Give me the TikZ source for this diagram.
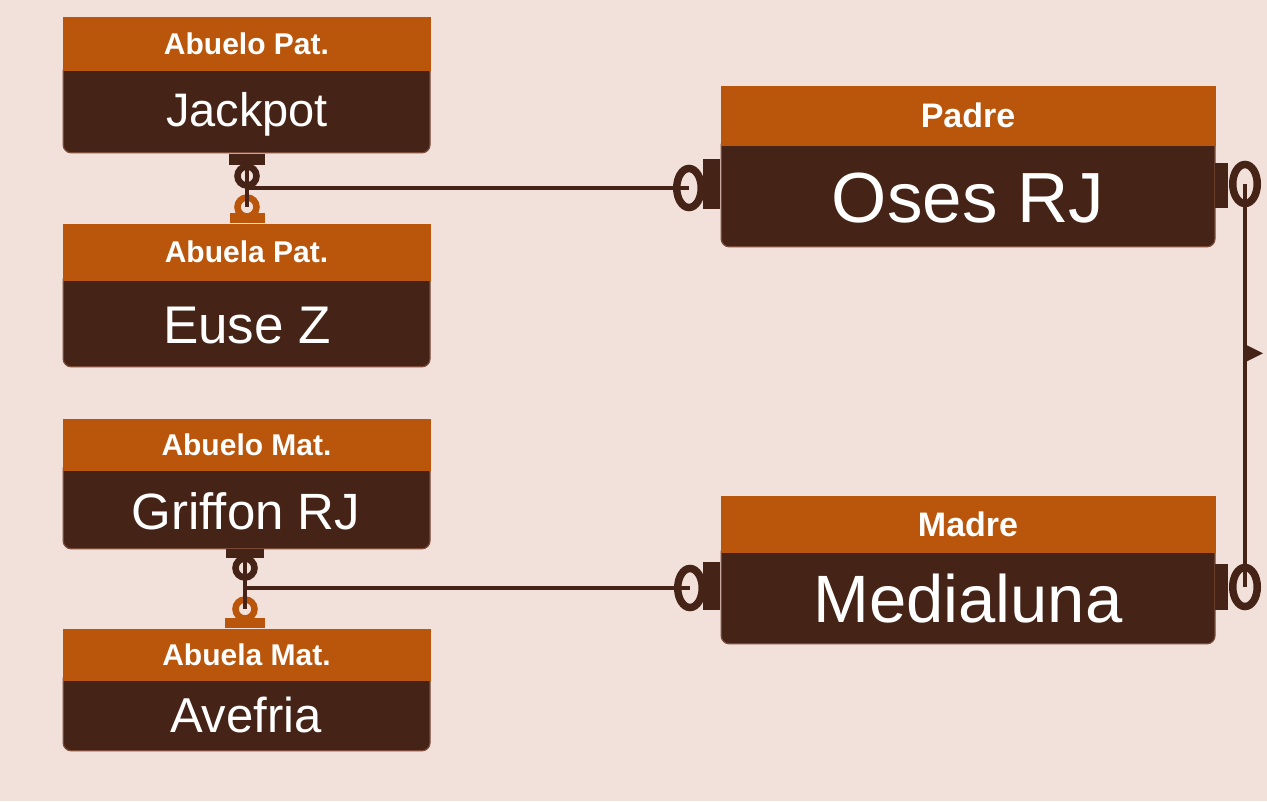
\documentclass[tikz,border=0pt]{standalone}
\usepackage{fontspec}
\setmainfont{Liberation Sans}
\usetikzlibrary{shapes.geometric,calc}
\definecolor{bgc}{HTML}{F2E0DA}
\definecolor{hdrc}{HTML}{B9560C}
\definecolor{bodyc}{HTML}{452417}
\definecolor{bordc}{HTML}{7A4B38}
\begin{document}
\begin{tikzpicture}[x=1pt,y=-1pt,
  hdr/.style={fill=hdrc, draw=hdrc, line width=1pt, text=white, inner sep=0pt, anchor=north west, font=\fontsize{30}{30}\selectfont\bfseries},
  bighdr/.style={hdr, font=\fontsize{34}{34}\selectfont\bfseries},
  bodyb/.style={fill=bodyc, draw=bordc, line width=1.2pt, rounded corners=8pt, inner sep=0pt, anchor=south west},
  nm/.style={text=white, inner sep=0pt, anchor=base},
  port/.style={fill=bodyc, inner sep=0pt, minimum width=36pt, minimum height=11pt},
  oport/.style={port, fill=hdrc},
  ring/.style={circle, draw=bodyc, line width=6.5pt, minimum size=19pt, inner sep=0pt},
  oring/.style={ring, draw=hdrc},
  pring/.style={ellipse, draw=bodyc, line width=7.5pt, minimum width=24.5pt, minimum height=39pt, inner sep=0pt},
  conn/.style={draw=bodyc, line width=4pt}]
\fill[bgc] (0,0) rectangle (1267,801);
\useasboundingbox (0,0) rectangle (1267,801);

% Abuelo Pat.
\node[bodyb, minimum width=366.8pt, minimum height=90pt] (apB) at (62.6,153.4) {};
\node[hdr, minimum width=367pt, minimum height=53pt] (apH) at (62.5,16.5) {Abuelo Pat.};
\node[nm, font=\fontsize{47}{47}\selectfont] (apN) at (247,126) {Jackpot};
% Abuela Pat.
\node[bodyb, minimum width=366.8pt, minimum height=95pt] (abpB) at (62.6,367.4) {};
\node[hdr, minimum width=367pt, minimum height=56pt] (abpH) at (62.5,223.5) {Abuela Pat.};
\node[nm, font=\fontsize{53}{53}\selectfont] (abpN) at (247,343) {Euse Z};
% Abuelo Mat.
\node[bodyb, minimum width=366.8pt, minimum height=88pt] (amB) at (62.6,549.4) {};
\node[hdr, minimum width=367pt, minimum height=51pt] (amH) at (62.5,418.5) {Abuelo Mat.};
\node[nm, font=\fontsize{51}{51}\selectfont] (amN) at (246,529) {Griffon RJ};
% Abuela Mat.
\node[bodyb, minimum width=366.8pt, minimum height=80pt] (abmB) at (62.6,751.4) {};
\node[hdr, minimum width=367pt, minimum height=51pt] (abmH) at (62.5,628.5) {Abuela Mat.};
\node[nm, font=\fontsize{49}{49}\selectfont] (abmN) at (246,732) {Avefria};
% Padre
\node[bodyb, minimum width=493.8pt, minimum height=110pt] (padB) at (720.6,247.4) {};
\node[bighdr, minimum width=494pt, minimum height=59pt] (padH) at (720.5,85.5) {Padre};
\node[nm, font=\fontsize{71}{71}\selectfont] (padN) at (968,222) {Oses RJ};
% Madre
\node[bodyb, minimum width=493.8pt, minimum height=100pt] (madB) at (720.6,644.4) {};
\node[bighdr, minimum width=494pt, minimum height=56pt] (madH) at (720.5,495.5) {Madre};
\node[nm, font=\fontsize{67}{67}\selectfont] (madN) at (968,622) {Medialuna};

% ports
\node[port] (apP) at (247,159.5) {};
\node[oport, minimum width=35pt, minimum height=10pt] (abpP) at (247,218) {};
\node[port, minimum width=38pt, minimum height=9pt] (amP) at (245,553.5) {};
\node[oport, minimum width=40pt, minimum height=10pt] (abmP) at (245,623) {};
\node[port, minimum width=17pt, minimum height=50pt] (padLP) at (711.5,184) {};
\node[port, minimum width=13pt, minimum height=45pt] (padRP) at (1221.5,185.5) {};
\node[port, minimum width=17pt, minimum height=48pt] (madLP) at (711.5,586) {};
\node[port, minimum width=13pt, minimum height=46pt] (madRP) at (1221.5,587) {};

% rings
\node[ring] (apR) at (247,176) {};
\node[oring] (abpR) at (247,207) {};
\node[ring] (amR) at (245,568) {};
\node[oring] (abmR) at (245,609) {};
\node[pring] (padL) at (689,188) {};
\node[pring] (padR) at (1245,184) {};
\node[pring] (madL) at (690,588) {};
\node[pring] (madR) at (1245,587) {};

% connectors
\draw[conn] (apP.center) -- (abpR.center);
\draw[conn] (apP.center |- padL.center) -- (padL.center);
\draw[conn] (amP.center) -- (abmR.center);
\draw[conn] (amP.center |- madL.center) -- (madL.center);
\draw[conn] (padR.center) -- (madR.center);
\coordinate (arr) at ($(padR.center)!0.42!(madR.center)$);
\fill[bodyc] (arr) ++(0,-9) -- ++(18,9) -- ++(-18,9) -- cycle;
\end{tikzpicture}
\end{document}
